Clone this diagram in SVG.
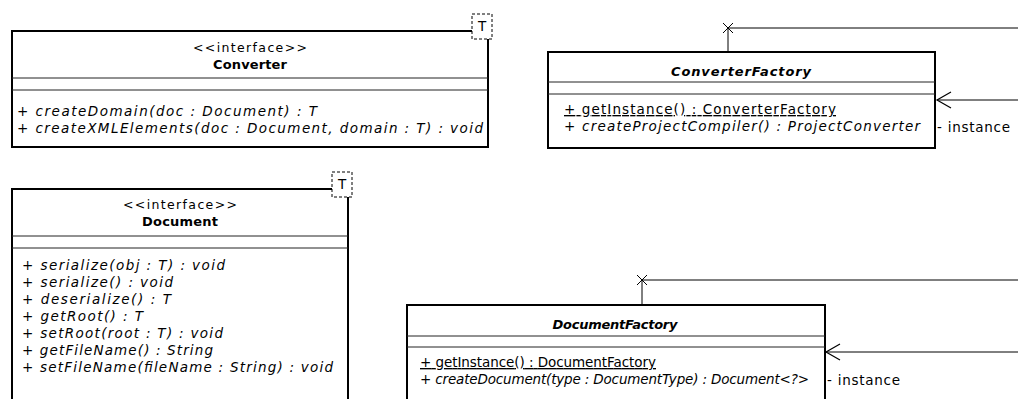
<svg xmlns="http://www.w3.org/2000/svg" width="1018" height="399" viewBox="0 0 1018 399">
<style>
.box{fill:#fff;stroke:#000;stroke-width:2}
.div{stroke:#222;stroke-width:1;fill:none}
.tb{fill:#fff;stroke:#000;stroke-width:1;stroke-dasharray:3,2}
.t{font-family:"DejaVu Sans",sans-serif;font-size:13.5px;fill:#000}
.c{text-anchor:middle}
.h{font-size:12.5px}
.b{font-weight:bold;font-size:13px}
.i{font-style:italic}
.u{text-decoration:underline}
.ln{stroke:#000;stroke-width:1;fill:none}
</style>
<defs>
<marker id="open" markerWidth="18" markerHeight="20" viewBox="-16 -10 18 20" refX="0" refY="0" orient="auto" markerUnits="userSpaceOnUse">
<path d="M-14,-8 L0,0 L-14,8" fill="none" stroke="#000" stroke-width="1.2"/>
</marker>
</defs>
<g id="Converter">
<rect class="box" x="12" y="31" width="476" height="116"/>
<rect class="tb" x="472" y="14" width="20" height="25"/>
<text class="t" x="482" y="31" text-anchor="middle">T</text>
<text class="t h c" x="250" y="52" textLength="114" lengthAdjust="spacing">&lt;&lt;interface&gt;&gt;</text>
<text class="t c b" x="250" y="69" textLength="74" lengthAdjust="spacing">Converter</text>
<line class="div" x1="12" y1="78" x2="488" y2="78"/>
<line class="div" x1="12" y1="90" x2="488" y2="90"/>
<text class="t i" x="17" y="116" textLength="300" lengthAdjust="spacing">+ createDomain(doc : Document) : T</text>
<text class="t i" x="17" y="133" textLength="466" lengthAdjust="spacing">+ createXMLElements(doc : Document, domain : T) : void</text>
</g>
<g id="ConverterFactory">
<rect class="box" x="548" y="52" width="387" height="96"/>
<text class="t c b i" x="741" y="76" textLength="140" lengthAdjust="spacing">ConverterFactory</text>
<line class="div" x1="548" y1="82" x2="935" y2="82"/>
<line class="div" x1="548" y1="94" x2="935" y2="94"/>
<text class="t u" x="564" y="114" textLength="272" lengthAdjust="spacing">+ getInstance() : ConverterFactory</text>
<text class="t i" x="564" y="131" textLength="356" lengthAdjust="spacing">+ createProjectCompiler() : ProjectConverter</text>
</g>
<g id="Document">
<rect class="box" x="12" y="189" width="336" height="220"/>
<rect class="tb" x="332" y="172" width="20" height="25"/>
<text class="t" x="342" y="189" text-anchor="middle">T</text>
<text class="t h c" x="180" y="209" textLength="114" lengthAdjust="spacing">&lt;&lt;interface&gt;&gt;</text>
<text class="t c b" x="180" y="226" textLength="76" lengthAdjust="spacing">Document</text>
<line class="div" x1="12" y1="236" x2="348" y2="236"/>
<line class="div" x1="12" y1="248" x2="348" y2="248"/>
<text class="t i" x="22" y="270" textLength="203" lengthAdjust="spacing">+ serialize(obj : T) : void</text>
<text class="t i" x="22" y="287" textLength="151" lengthAdjust="spacing">+ serialize() : void</text>
<text class="t i" x="22" y="304" textLength="149" lengthAdjust="spacing">+ deserialize() : T</text>
<text class="t i" x="22" y="321" textLength="121" lengthAdjust="spacing">+ getRoot() : T</text>
<text class="t i" x="22" y="338" textLength="201" lengthAdjust="spacing">+ setRoot(root : T) : void</text>
<text class="t i" x="22" y="355" textLength="191" lengthAdjust="spacing">+ getFileName() : String</text>
<text class="t i" x="22" y="372" textLength="311" lengthAdjust="spacing">+ setFileName(fileName : String) : void</text>
</g>
<g id="DocumentFactory">
<rect class="box" x="407" y="305" width="418" height="110"/>
<text class="t c b i" x="615" y="329" textLength="125" lengthAdjust="spacing">DocumentFactory</text>
<line class="div" x1="407" y1="336" x2="825" y2="336"/>
<line class="div" x1="407" y1="347" x2="825" y2="347"/>
<text class="t u" x="420" y="367" textLength="236" lengthAdjust="spacing">+ getInstance() : DocumentFactory</text>
<text class="t i" x="420" y="384" textLength="389" lengthAdjust="spacing">+ createDocument(type : DocumentType) : Document&lt;?&gt;</text>
</g>
<g id="connectors">
<path class="ln" d="M1018,28 H728 V52"/>
<path class="ln" d="M723,23 L733,33 M733,23 L723,33"/>
<path class="ln" d="M1018,100 H937" marker-end="url(#open)"/>
<text class="t" x="937" y="132" textLength="73" lengthAdjust="spacing">- instance</text>
<path class="ln" d="M1018,280 H642 V305"/>
<path class="ln" d="M637,275 L647,285 M647,275 L637,285"/>
<path class="ln" d="M1018,352 H826" marker-end="url(#open)"/>
<text class="t" x="827" y="385" textLength="73" lengthAdjust="spacing">- instance</text>
</g>
</svg>
